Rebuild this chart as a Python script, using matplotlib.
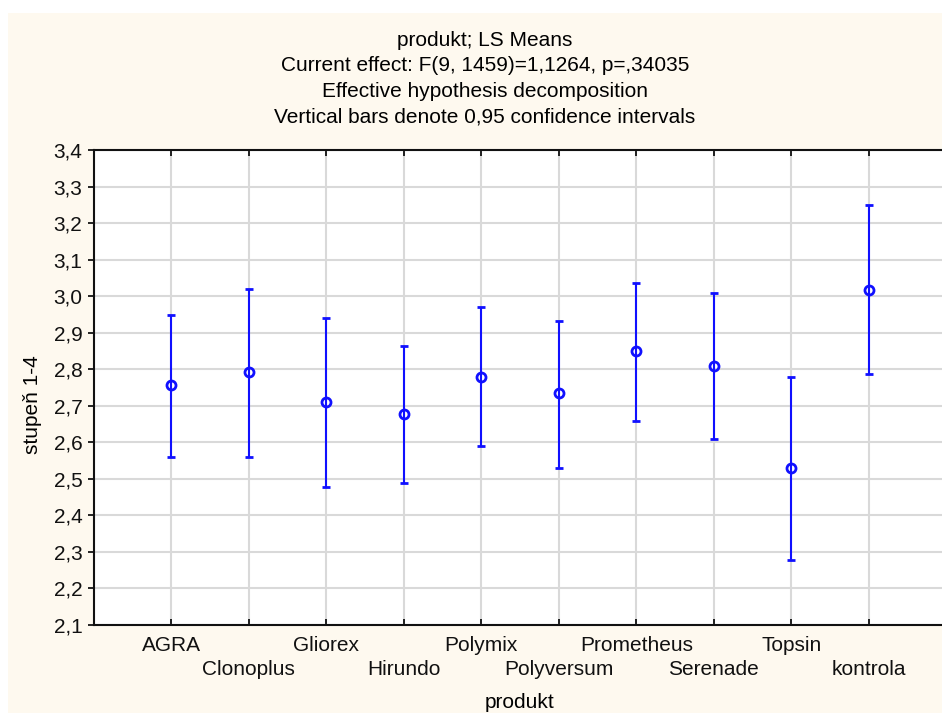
import matplotlib.pyplot as plt
from matplotlib.patches import Rectangle
from matplotlib.ticker import FuncFormatter

products = ['AGRA', 'Clonoplus', 'Gliorex', 'Hirundo', 'Polymix',
            'Polyversum', 'Prometheus', 'Serenade', 'Topsin', 'kontrola']
means = [2.756, 2.792, 2.710, 2.677, 2.778, 2.734, 2.849, 2.808, 2.529, 3.016]
upper = [2.948, 3.019, 2.940, 2.863, 2.970, 2.932, 3.036, 3.008, 2.778, 3.249]
lower = [2.559, 2.559, 2.477, 2.488, 2.589, 2.529, 2.658, 2.608, 2.279, 2.786]

plt.rcParams['font.family'] = ['Liberation Sans', 'DejaVu Sans']
FS = 15

W, H = 942, 713
fig = plt.figure(figsize=(W / 100, H / 100), dpi=100, facecolor='white')

# beige panel behind the chart
fig.patches.append(Rectangle((8 / W, 0), 1, 1 - 13 / H, transform=fig.transFigure,
                             facecolor='#fef9ef', edgecolor='none', zorder=-10))

# axes: x positions 0..11, right part cut by the image edge
left, right, top, bottom = 93.5, 946.5, 150, 625
ax = fig.add_axes([left / W, 1 - bottom / H, (right - left) / W, (bottom - top) / H])
ax.set_facecolor('white')

x = list(range(1, len(products) + 1))
yerr = [[m - l for m, l in zip(means, lower)], [u - m for m, u in zip(means, upper)]]
ax.errorbar(x, means, yerr=yerr, fmt='o', color='#1010ff', ecolor='#1010ff',
            elinewidth=1.5, capsize=3, capthick=1.5, markersize=6.5,
            markerfacecolor='none', markeredgewidth=2, zorder=3)

ax.set_xlim(0, 11)
ax.set_ylim(2.1, 3.4)
ax.set_yticks([2.1 + 0.1 * i for i in range(14)])
ax.yaxis.set_major_formatter(FuncFormatter(lambda v, p: f'{v:.1f}'.replace('.', ',')))
ax.set_xticks(x)
ax.set_xticklabels([])

for xi, name in zip(x, products):
    ypos = -0.044 if xi % 2 == 1 else -0.093
    ax.text(xi, ypos, name, transform=ax.get_xaxis_transform(), ha='center', va='center',
            fontsize=FS, color='#111111')

ax.grid(True, color='#d9d9d9', linewidth=1.5, zorder=0)
ax.set_axisbelow(True)
for s in ax.spines.values():
    s.set_linewidth(1.5)
    s.set_color('#111111')

ax.tick_params(axis='y', direction='out', length=4, width=1.2, labelsize=FS, pad=4,
               labelcolor='#111111')
ax.tick_params(axis='x', direction='in', length=4, width=1.2, top=True)

fig.text(33 / W, 1 - 405 / H, 'stupeň 1-4', rotation=90, ha='center', va='center', fontsize=FS)
fig.text(520 / W, 1 - 703 / H, 'produkt', ha='center', va='center', fontsize=FS)

titles = ['produkt; LS Means',
          'Current effect: F(9, 1459)=1,1264, p=,34035',
          'Effective hypothesis decomposition',
          'Vertical bars denote 0,95 confidence intervals']
for i, t in enumerate(titles):
    fig.text(485 / W, 1 - (40 + 25.7 * i) / H, t, ha='center', va='center', fontsize=FS)

fig.savefig('out.png', dpi=100, facecolor=fig.get_facecolor())
